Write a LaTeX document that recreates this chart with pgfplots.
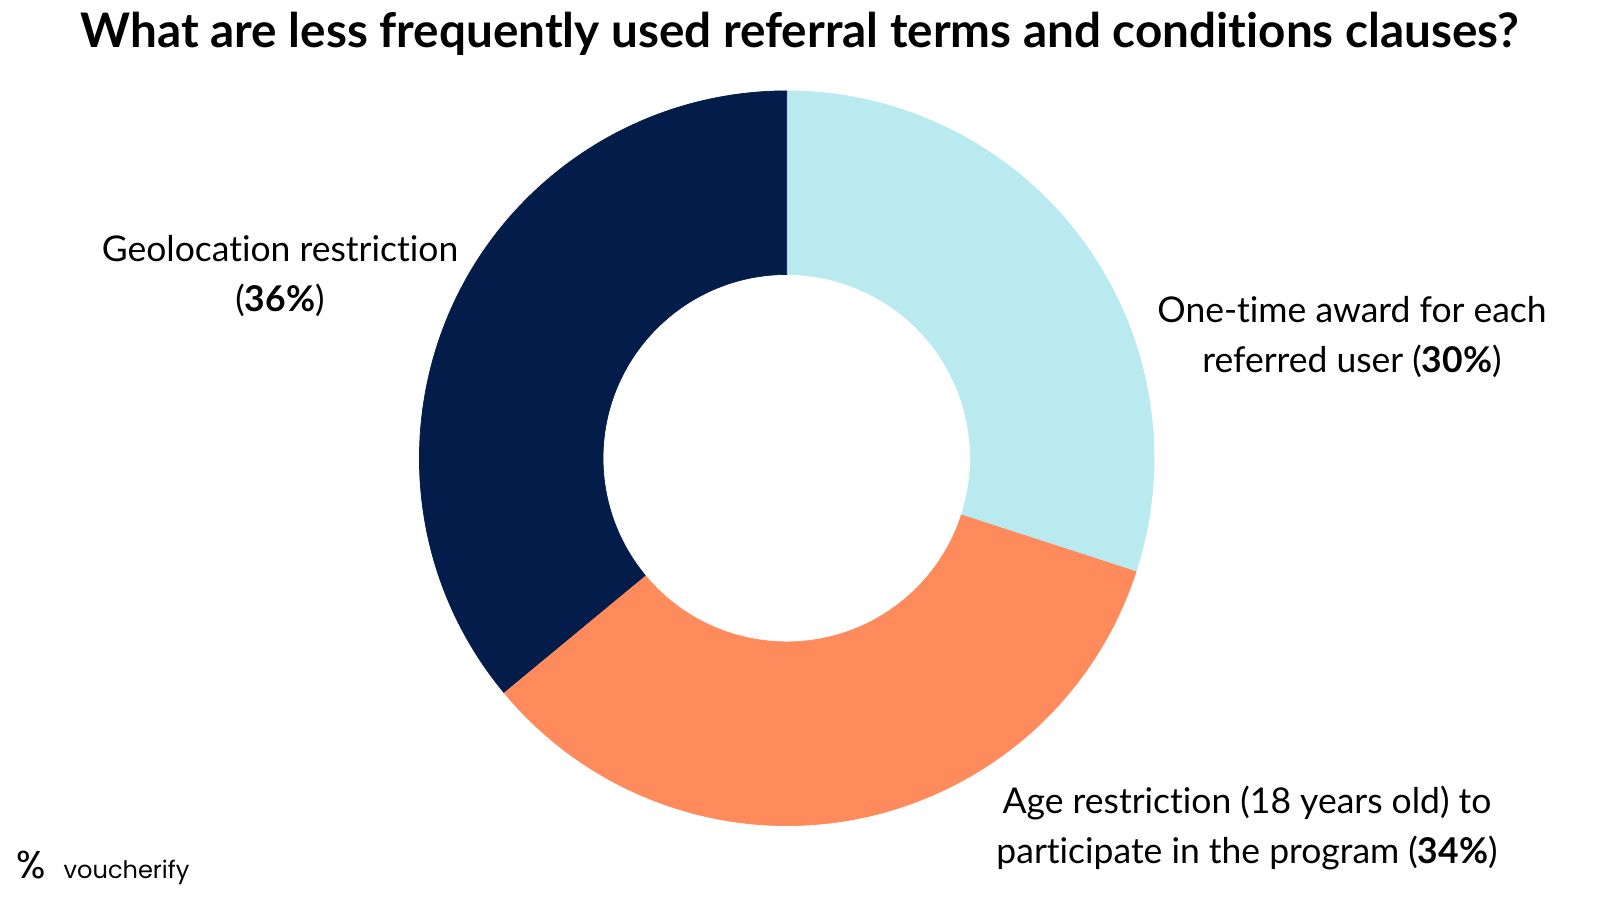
\documentclass[border=0pt]{standalone}
\usepackage{fontspec}
\setmainfont[Ligatures=NoCommon]{Lato}
\newfontfamily\logofont{Poppins}
\usepackage{pgfplots}
\usepackage{pgfplotstable}
\pgfplotsset{compat=1.18}
\definecolor{cAward}{HTML}{B9EAF0}
\definecolor{cAge}{HTML}{FF8A5C}
\definecolor{cGeo}{HTML}{041C4A}
\pgfplotstableread{
value color
30 cAward
34 cAge
36 cGeo
}\slices
\begin{document}
\begin{tikzpicture}
\begin{axis}[x=1cm,y=1cm,xmin=0,xmax=16,ymin=0,ymax=9,hide axis,clip=false,scale only axis]
\path (axis cs:0,0) rectangle (axis cs:16,9);
\def\cx{7.867}\def\cy{4.429}\def\Rout{3.673}\def\Rin{1.837}
\gdef\startang{90}
\pgfplotsforeachungrouped \i in {0,1,2}{%
  \pgfplotstablegetelem{\i}{value}\of\slices \let\val\pgfplotsretval
  \pgfplotstablegetelem{\i}{color}\of\slices \let\col\pgfplotsretval
  \pgfmathsetmacro\endang{\startang-3.6*\val}%
  \edef\cmd{\noexpand\fill[\col,draw=\col,line width=0.2pt] (axis cs:{\cx+\Rout*cos(\startang)},{\cy+\Rout*sin(\startang)}) arc[start angle=\startang,end angle=\endang,radius=\Rout] -- (axis cs:{\cx+\Rin*cos(\endang)},{\cy+\Rin*sin(\endang)}) arc[start angle=\endang,end angle=\startang,radius=\Rin] -- cycle;}%
  \cmd
  \xdef\startang{\endang}%
}
\node[font=\fontsize{13.55}{16}\selectfont\bfseries, anchor=base] at (axis cs:8.0,8.54) {What are less frequently used referral terms and conditions clauses?};
\node[font=\fontsize{10.1}{14.2}\selectfont, align=center] at (axis cs:2.80,6.25) {Geolocation restriction\\(\textbf{36\%})};
\node[font=\fontsize{10.1}{14.2}\selectfont, align=center] at (axis cs:13.52,5.64) {One-time award for each\\referred user (\textbf{30\%})};
\node[font=\fontsize{10.1}{14.2}\selectfont, align=center] at (axis cs:12.47,0.735) {Age restriction (18 years old) to\\participate in the program (\textbf{34\%})};
\node[anchor=base west, inner sep=0, font=\logofont\fontsize{11}{11}\selectfont] at (axis cs:0.16,0.23) {\%};
\node[anchor=base west, inner sep=0, font=\logofont\fontsize{6.85}{7}\selectfont] at (axis cs:0.63,0.23) {voucherify};
\end{axis}
\end{tikzpicture}
\end{document}
